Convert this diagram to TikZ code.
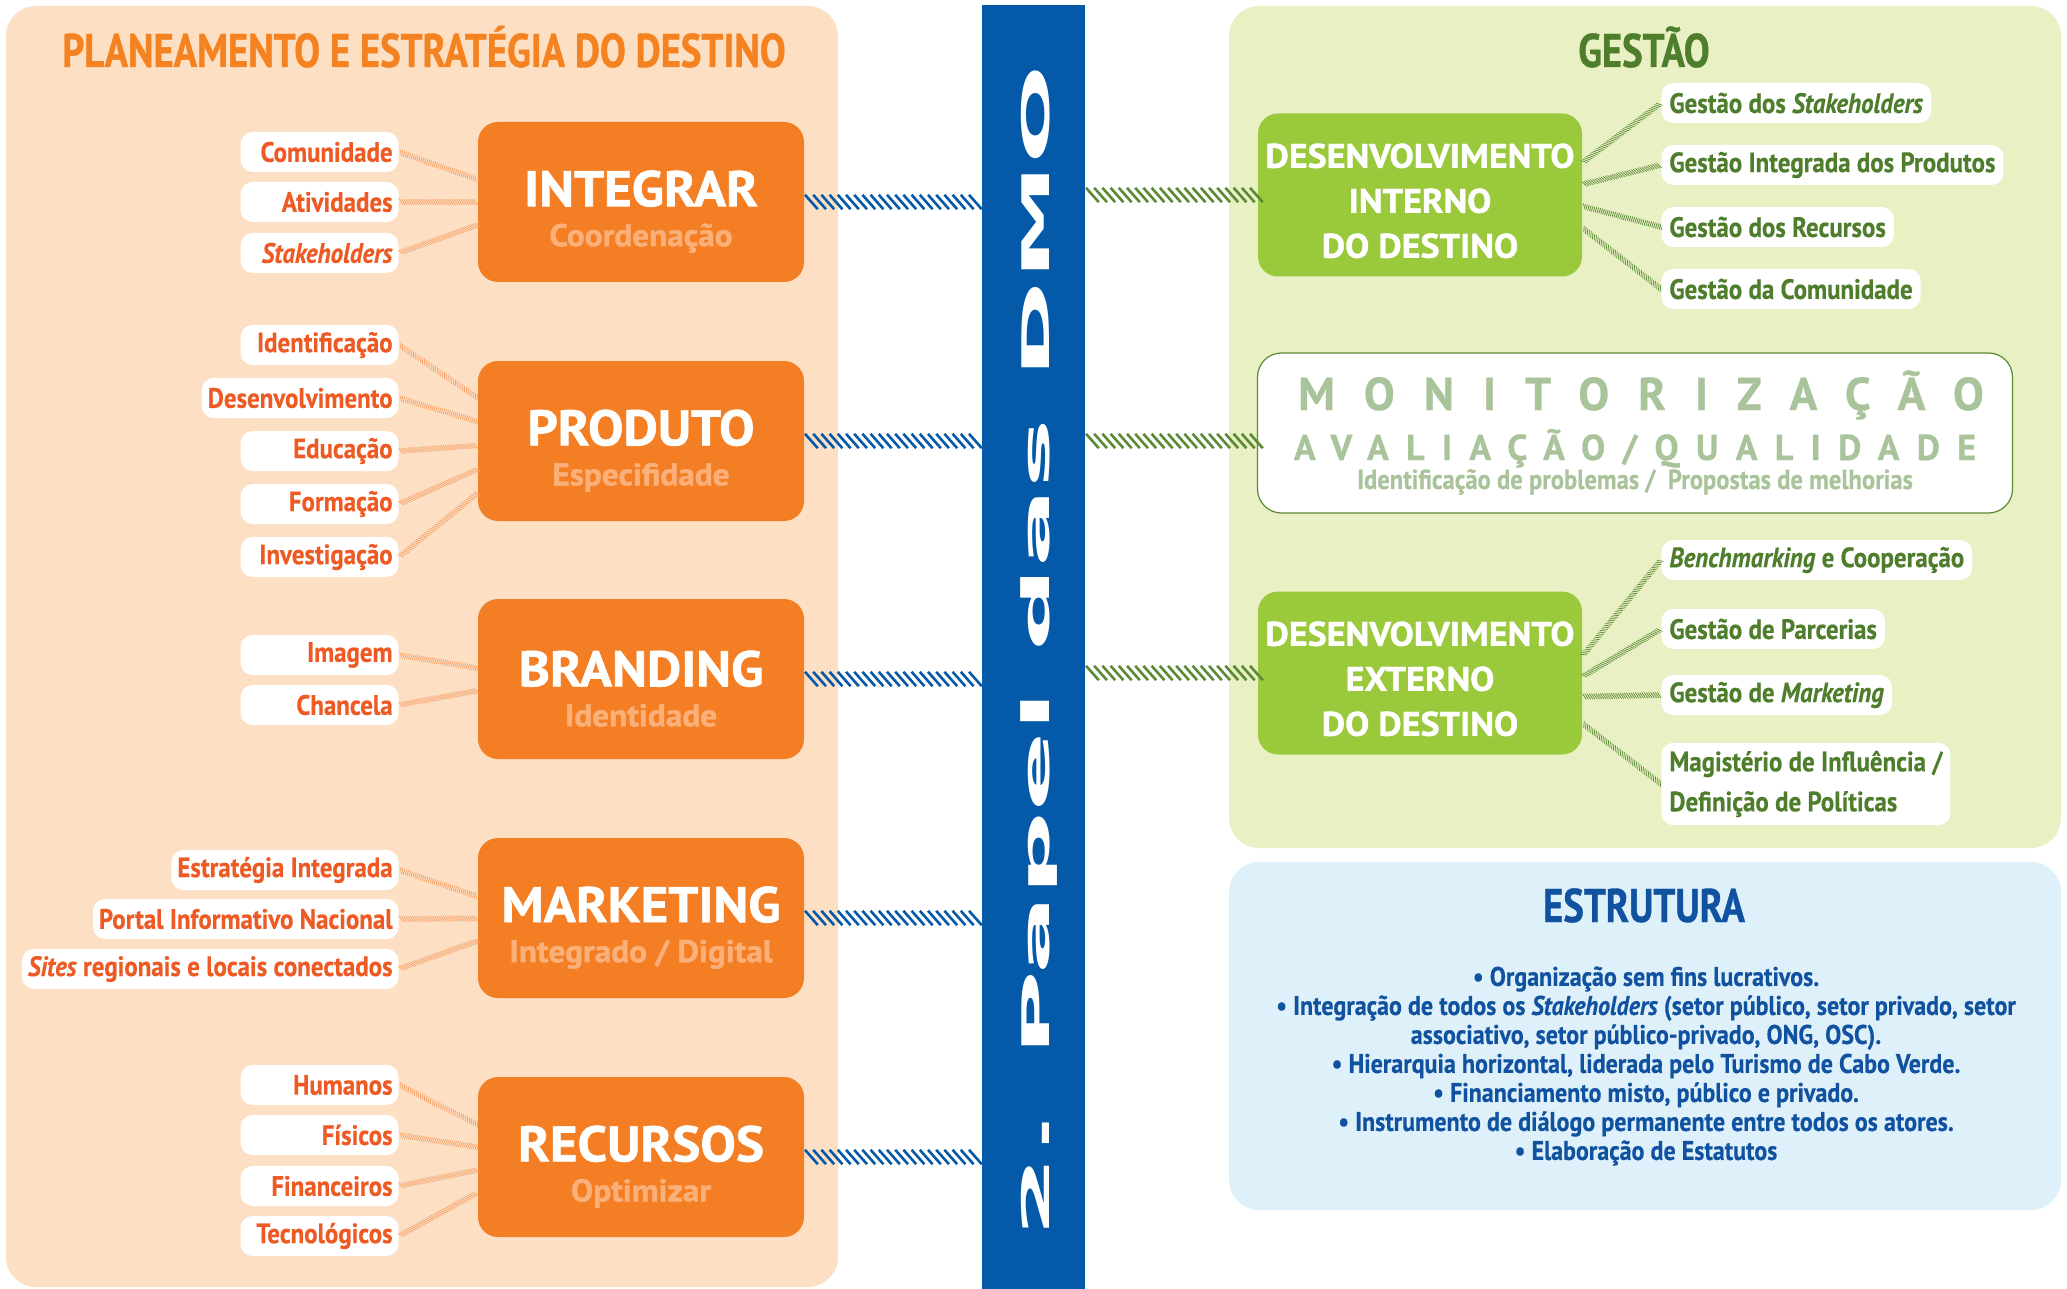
\documentclass[tikz,border=0pt]{standalone}
\usepackage{fontspec}
\setmainfont{PT Sans}
\newfontfamily\narrowfont{PT Sans}[FakeStretch=0.89, FakeBold=0.4]
\newfontfamily\titlefont{PT Sans}[FakeStretch=0.82, FakeBold=0.8]
\newfontfamily\heavyfont{PT Sans}[FakeStretch=1.06, FakeBold=1.2]
\newfontfamily\widefont{DejaVu Sans}[FakeStretch=3.08]
\newfontfamily\trackfont{PT Sans}[LetterSpace=63, FakeBold=0.6]
\newfontfamily\trackfontb{PT Sans}[LetterSpace=48, FakeBold=0.6]
\usetikzlibrary{calc}
\usetikzlibrary{decorations.markings}

\definecolor{planbg}{HTML}{FDDFC4}
\definecolor{coreorange}{HTML}{F47E23}
\definecolor{coresub}{HTML}{FBB07A}
\definecolor{titleorange}{HTML}{F58220}
\definecolor{lblred}{HTML}{EE5A24}
\definecolor{linkorange}{HTML}{F6A066}
\definecolor{dmoblue}{HTML}{045AA8}
\definecolor{gestbg}{HTML}{E8F0C4}
\definecolor{gestgreen}{HTML}{9AC93C}
\definecolor{darkgreen}{HTML}{4E7D2C}
\definecolor{linkgreen}{HTML}{5B8A34}
\definecolor{monitgrey}{HTML}{A9C39B}
\definecolor{estbg}{HTML}{DEF1FB}
\definecolor{estblue}{HTML}{1152A0}

\newcommand{\coretext}[2]{\rule{0pt}{27.5pt}#1\\{\fontsize{15.7}{20}\selectfont\color{coresub}#2}}
\newcommand{\devtext}[1]{\rule{0pt}{18pt}DESENVOLVIMENTO\\#1\\DO DESTINO}

\tikzset{
  panel/.style={rounded corners=15pt},
  sectitle/.style={anchor=base, font=\titlefont\bfseries\fontsize{23.6}{24}\selectfont},
  core/.style={fill=coreorange, rounded corners=10pt, minimum width=163pt, minimum height=80pt,
    align=center, text=white, font=\heavyfont\bfseries\fontsize{25}{20}\selectfont},
  devbox/.style={fill=gestgreen, rounded corners=10pt, minimum width=162pt, minimum height=81.5pt,
    align=center, text=white, font=\heavyfont\bfseries\fontsize{17}{22.5}\selectfont},
  lbl/.style={fill=white, rounded corners=6pt, anchor=east, minimum height=20pt, inner xsep=3pt,
    inner ysep=0pt, text width=#1, align=right, text=lblred, font=\narrowfont\bfseries\fontsize{14}{16}\selectfont},
  lbl/.default=73pt,
  gpill/.style={fill=white, rounded corners=6pt, anchor=west, minimum height=20pt, inner xsep=4pt,
    inner ysep=0pt, align=left, text=darkgreen, font=\narrowfont\bfseries\fontsize{14}{20}\selectfont},
  monit/.style={fill=white, draw=linkgreen, line width=0.6pt, rounded corners=12pt,
    minimum width=377.5pt, minimum height=80pt},
  esttext/.style={align=center, text=estblue, font=\narrowfont\bfseries\fontsize{13.5}{14.5}\selectfont},
  bluelink/.style={postaction={decorate, decoration={markings,
    mark=between positions 3.5pt and 1 step 4.1pt with {\draw[dmoblue, line width=1.3pt] (-3.2pt,3.6pt) -- (3.2pt,-3.6pt);}}}},
  greenlink/.style={postaction={decorate, decoration={markings,
    mark=between positions 3.5pt and 1 step 4.1pt with {\draw[linkgreen, line width=1.3pt] (-3.2pt,3.6pt) -- (3.2pt,-3.6pt);}}}},
  orangelink/.style={postaction={decorate, decoration={markings,
    mark=between positions 1pt and 1 step 1.1pt with {\draw[linkorange, line width=0.35pt] (-0.9pt,1.4pt) -- (0.9pt,-1.4pt);}}}},
  thingreen/.style={postaction={decorate, decoration={markings,
    mark=between positions 1pt and 1 step 1.1pt with {\draw[linkgreen, line width=0.35pt] (-0.9pt,1.4pt) -- (0.9pt,-1.4pt);}}}}
}

\begin{document}
\begin{tikzpicture}[x=0.5pt, y=-0.5pt]
\useasboundingbox (0,0) rectangle (2067,1289);
% panels
\fill[planbg, panel] (6,6) rectangle (838,1287);
\fill[gestbg, panel] (1229,6) rectangle (2061,848);
\fill[estbg, panel] (1229,862) rectangle (2061,1210);
\node[sectitle, text=titleorange] (plantitle) at (424,67) {PLANEAMENTO E ESTRATÉGIA DO DESTINO};
\node[sectitle, text=darkgreen] (gesttitle) at (1644,67) {GESTÃO};
\node[sectitle, text=estblue] (esttitle) at (1644,922) {ESTRUTURA};

% central bar
\node[fill=dmoblue, minimum width=51.5pt, minimum height=642pt, inner sep=0pt] (bar) at (1033.5,647) {};
\node[rotate=90, anchor=base, text=white, font=\widefont\bfseries\fontsize{19}{19}\selectfont] (dmo) at (1049,651) {2. Papel das DMO};

% planeamento
\node[core] (integrar) at (641,202) {\coretext{INTEGRAR}{Coordenação}};
\node[core] (produto) at (641,441) {\coretext{PRODUTO}{Especifidade}};
\node[core] (branding) at (641,679) {\coretext{BRANDING}{Identidade}};
\node[core] (marketing) at (641,918) {\coretext{MARKETING}{Integrado / Digital}};
\node[core] (recursos) at (641,1157) {\coretext{RECURSOS}{Optimizar}};

\node[lbl] (comunidade) at (399,152) {Comunidade};
\node[lbl] (atividades) at (399,202) {Atividades};
\node[lbl] (stakeint) at (399,253) {\textit{Stakeholders}};
\node[lbl] (ident) at (399,345) {Identificação};
\node[lbl={}] (desenv) at (399,398) {Desenvolvimento};
\node[lbl] (educ) at (399,451) {Educação};
\node[lbl] (form) at (399,504) {Formação};
\node[lbl] (invest) at (399,557) {Investigação};
\node[lbl] (imagem) at (399,655) {Imagem};
\node[lbl] (chancela) at (399,705) {Chancela};
\node[lbl={}] (estrat) at (399,870) {Estratégia Integrada};
\node[lbl={}] (portal) at (399,919) {Portal Informativo Nacional};
\node[lbl={}] (sites) at (399,969) {\textit{Sites} regionais e locais conectados};
\node[lbl] (humanos) at (399,1085) {Humanos};
\node[lbl] (fisicos) at (399,1135) {Físicos};
\node[lbl] (financ) at (399,1186) {Financeiros};
\node[lbl] (tecno) at (399,1236) {Tecnológicos};

\foreach \b/\ls in {integrar/{comunidade,atividades,stakeint}, produto/{ident,desenv,educ,form,invest},
  branding/{imagem,chancela}, marketing/{estrat,portal,sites}, recursos/{humanos,fisicos,financ,tecno}} {
  \foreach \l in \ls
    \path[orangelink] (\l.east) -- ($(\b.west)!.45!(\b.west |- \l.east)$);
  \path[bluelink] (\b.east) -- (\b.east -| bar.west);
}

% gestao
\node[devbox] (interno) at (1420,195) {\devtext{INTERNO}};
\node[devbox] (externo) at (1420,673) {\devtext{EXTERNO}};

\node[gpill] (gstake) at (1661,103) {Gestão dos \textit{Stakeholders}};
\node[gpill] (gintegr) at (1661,165) {Gestão Integrada dos Produtos};
\node[gpill] (grecurs) at (1661,227) {Gestão dos Recursos};
\node[gpill] (gcomun) at (1661,289) {Gestão da Comunidade};
\node[gpill] (gbench) at (1661,560) {\textit{Benchmarking} e Cooperação};
\node[gpill] (gparc) at (1661,629) {Gestão de Parcerias};
\node[gpill] (gmark) at (1661,695) {Gestão de \textit{Marketing}};
\node[gpill, inner ysep=4pt] (gmagist) at (1661,784) {Magistério de Influência /\\Definição de Políticas};

\foreach \l in {gstake,gintegr,grecurs,gcomun}
  \path[thingreen] ($(interno.east)!.35!(interno.east |- \l.west)$) -- (\l.west);
\foreach \l in {gbench,gparc,gmark,gmagist}
  \path[thingreen] ($(externo.east)!.3!(externo.east |- \l.west) + (0,17)$) -- (\l.west);

\node[monit] (monitor) at (1635,433) {};
\node[anchor=base, text=monitgrey, font=\trackfont\bfseries\fontsize{23}{23}\selectfont] (montitle)
  at ($(monitor.center)+(6,-23)$) {MONITORIZAÇÃO};
\node[anchor=base, text=monitgrey, font=\trackfontb\bfseries\fontsize{18}{18}\selectfont] (monqual)
  at ($(monitor.center)+(0,27)$) {AVALIAÇÃO/QUALIDADE};
\node[anchor=base, text=monitgrey, font=\narrowfont\bfseries\fontsize{13.8}{14}\selectfont] (monprob)
  at ($(monitor.center)+(0,56)$) {Identificação de problemas / \ Propostas de melhorias};

\path[greenlink] (bar.east |- interno.west) -- (interno.west);
\path[greenlink] (bar.east |- produto.east) -- (monitor.west |- produto.east);
\path[greenlink] (bar.east |- externo.west) -- (externo.west);

% estrutura
\node[esttext] (estlist) at (1646,1066) {• Organização sem fins lucrativos.\\
  • Integração de todos os \textit{Stakeholders} (setor público, setor privado, setor\\
  associativo, setor público-privado, ONG, OSC).\\
  • Hierarquia horizontal, liderada pelo Turismo de Cabo Verde.\\
  • Financiamento misto, público e privado.\\
  • Instrumento de diálogo permanente entre todos os atores.\\
  • Elaboração de Estatutos};
\end{tikzpicture}
\end{document}
